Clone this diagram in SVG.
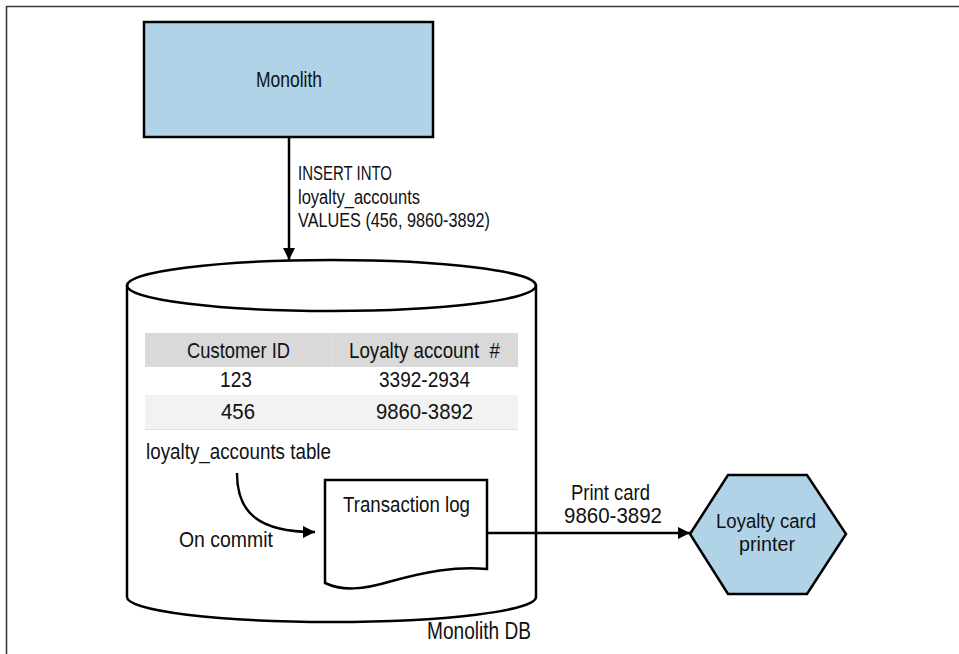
<svg xmlns="http://www.w3.org/2000/svg" width="959" height="654" viewBox="0 0 959 654">
<style>
.t{font-family:"Liberation Sans",Arial,sans-serif;font-size:22px;fill:#111;}
.s{stroke:#000;stroke-width:2.5;fill:none;}
.blue{fill:#b0d3e8;stroke:#000;stroke-width:2.5;}
</style>
<defs>
<marker id="ah" viewBox="0 0 12 12" refX="12" refY="6" markerWidth="12" markerHeight="12" markerUnits="userSpaceOnUse" orient="auto">
<path d="M0,0 L12,6 L0,12 Z" fill="#000"/>
</marker>
</defs>
<rect width="959" height="654" fill="#fff"/>
<path d="M6.5,654 V6.5 H959" fill="none" stroke="#3a3a3a" stroke-width="1.6"/>

<g id="monolith">
<rect x="144" y="22" width="289" height="115" class="blue"/>
<text class="t" x="256" y="87" textLength="66" lengthAdjust="spacingAndGlyphs">Monolith</text>
</g>

<g id="monolith-db">
<path d="M127,285 V597 A204.5,25 0 0 0 536,597 V285" class="s" fill="#fff"/>
<ellipse cx="331.5" cy="285.5" rx="204.5" ry="25.5" class="s" fill="#fff"/>
<text class="t" x="427" y="639" style="font-size:23px" textLength="104" lengthAdjust="spacingAndGlyphs">Monolith DB</text>
</g>

<g id="loyalty-table">
<rect x="145" y="333" width="373" height="34" fill="#d9d9d9"/>
<line x1="332" y1="333" x2="332" y2="367" stroke="#e4e4e4" stroke-width="1"/>
<rect x="145" y="395" width="373" height="34" fill="#f2f2f2"/>
<line x1="145" y1="429.5" x2="518" y2="429.5" stroke="#e2e2e2" stroke-width="1"/>
<text class="t" x="187" y="358" textLength="103" lengthAdjust="spacingAndGlyphs">Customer ID</text>
<text class="t" x="349" y="358" xml:space="preserve" textLength="151" lengthAdjust="spacingAndGlyphs">Loyalty account  #</text>
<text class="t" x="220" y="387" textLength="32" lengthAdjust="spacingAndGlyphs">123</text>
<text class="t" x="379" y="387" textLength="91" lengthAdjust="spacingAndGlyphs">3392-2934</text>
<text class="t" x="221" y="419" textLength="34" lengthAdjust="spacingAndGlyphs">456</text>
<text class="t" x="376" y="419" textLength="97" lengthAdjust="spacingAndGlyphs">9860-3892</text>
<text class="t" x="146" y="459" textLength="185" lengthAdjust="spacingAndGlyphs">loyalty_accounts table</text>
</g>

<g id="transaction-log">
<path d="M325,480 H487 V569 C455,566 425,572 392,581 C362,590 342,591 325,583 Z" fill="#fff" stroke="#000" stroke-width="2.5"/>
<text class="t" x="343" y="512" textLength="127" lengthAdjust="spacingAndGlyphs">Transaction log</text>
</g>

<g id="loyalty-printer">
<polygon points="690,534 728,475 807,475 846,534 807,594 728,594" class="blue"/>
<text class="t" x="716" y="528" style="font-size:20px" textLength="100" lengthAdjust="spacingAndGlyphs">Loyalty card</text>
<text class="t" x="739" y="551" style="font-size:20px" textLength="56" lengthAdjust="spacingAndGlyphs">printer</text>
</g>

<g id="connectors">
<line x1="289" y1="137" x2="289" y2="260" class="s" marker-end="url(#ah)"/>
<text class="t" x="298" y="180" style="font-size:20px" textLength="94" lengthAdjust="spacingAndGlyphs">INSERT INTO</text>
<text class="t" x="298" y="203.5" style="font-size:20px" textLength="122" lengthAdjust="spacingAndGlyphs">loyalty_accounts</text>
<text class="t" x="298" y="227" style="font-size:20px" textLength="192" lengthAdjust="spacingAndGlyphs">VALUES (456, 9860-3892)</text>

<path d="M237,473 C237,510 255,532 315,532" class="s" marker-end="url(#ah)"/>
<text class="t" x="179" y="547" textLength="94" lengthAdjust="spacingAndGlyphs">On commit</text>

<line x1="487" y1="533" x2="690" y2="533" class="s" marker-end="url(#ah)"/>
<text class="t" x="571" y="500" textLength="79" lengthAdjust="spacingAndGlyphs">Print card</text>
<text class="t" x="564" y="523" textLength="98" lengthAdjust="spacingAndGlyphs">9860-3892</text>
</g>
</svg>
